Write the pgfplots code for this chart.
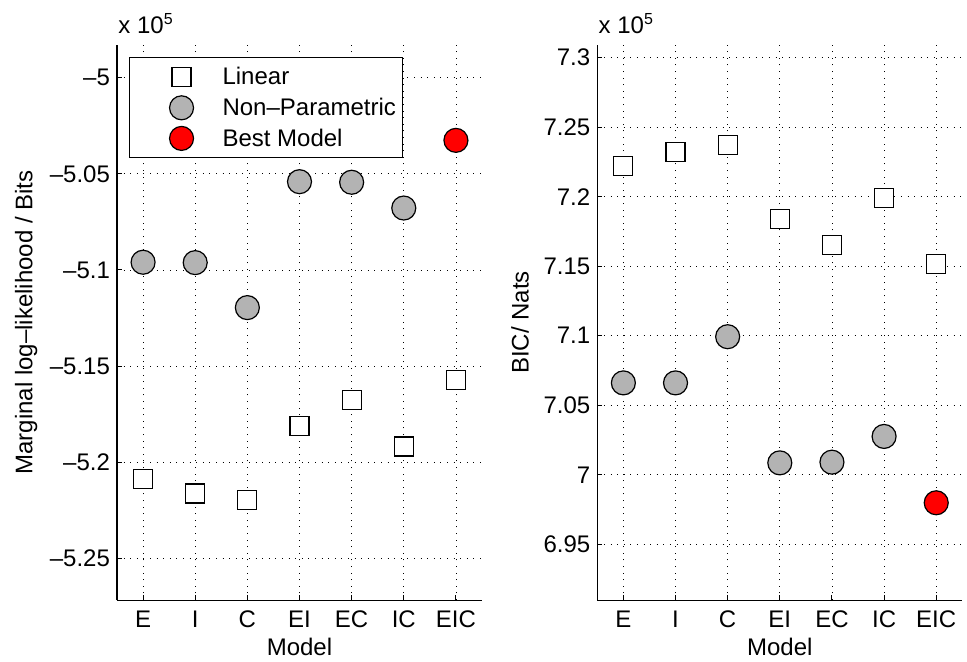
\documentclass[border=0pt]{standalone}
\usepackage{pgfplots}
\pgfplotsset{compat=1.18}
\usepackage{fontspec}
\setmainfont{Liberation Sans}
\definecolor{npgray}{RGB}{179,179,179}
\pgfplotsset{
 mystyle/.style={
  scale only axis, width=182.5pt, height=277.5pt,
  anchor=south west,
  xmin=0.5, xmax=7.5,
  axis x line=bottom, axis y line=left,
  x axis line style={-}, y axis line style={-},
  xtick={1,...,7}, xticklabels={E,I,C,EI,EC,IC,EIC},
  tick align=inside, major tick length=2.5pt,
  grid=major, major grid style={black, line width=0.4pt, dash pattern=on 0.5pt off 2.8pt},
  tick style={black, line width=0.5pt},
  axis line style={line width=0.5pt},
  font=\fontsize{12}{14}\selectfont,
  tick label style={font=\fontsize{12}{14}\selectfont},
  xlabel=Model,
  xlabel style={at={(axis description cs:0.5,0)}, anchor=center, yshift=-23.5pt},
  xticklabel style={yshift=-2pt},
  /pgf/number format/assume math mode=true,
  clip=false,
 },
 linstyle/.style={only marks, mark=square*, mark size=4.75pt, mark options={fill=white, draw=black, line width=0.6pt}},
 npstyle/.style={only marks, mark=*, mark size=6pt, mark options={fill=npgray, draw=black, line width=0.6pt}},
 beststyle/.style={only marks, mark=*, mark size=6pt, mark options={fill=red, draw=black, line width=0.6pt}},
}
\begin{document}
\begin{tikzpicture}
\useasboundingbox (-58.5pt,-30.5pt) rectangle (425pt,300pt);
\begin{axis}[mystyle, at={(0pt,0pt)},
  ymin=-5.2717, ymax=-4.983,
  ytick={-5.25,-5.2,-5.15,-5.1,-5.05,-5},
  yticklabels={–5.25,–5.2,–5.15,–5.1,–5.05,–5},
  ylabel={Marginal log–likelihood / Bits},
  ylabel style={at={(axis description cs:-0.249,0.5)}, anchor=center},
  legend style={at={(0.033,0.978)}, anchor=north west, draw=black, line width=0.5pt,
    inner xsep=1.5pt, inner ysep=2.1pt, row sep=0pt,
    nodes={inner ysep=2.85pt, inner xsep=2pt, text height=8.6pt, text depth=1pt},
    cells={anchor=west}, font=\fontsize{12}{14}\selectfont},
  legend image code/.code={\path[draw=none] (0pt,-1pt) rectangle (43pt,1pt); \path[#1] plot coordinates {(24.5pt,0pt)};},
]
\addplot[linstyle] coordinates {(1,-5.2086) (2,-5.2163) (3,-5.2196) (4,-5.1812) (5,-5.1675) (6,-5.1918) (7,-5.1571)};
\addlegendentry{Linear}
\addplot[npstyle] coordinates {(1,-5.0960) (2,-5.0962) (3,-5.1196) (4,-5.0541) (5,-5.0544) (6,-5.0678)};
\addlegendentry{Non–Parametric}
\addplot[beststyle] coordinates {(7,-5.0326)};
\addlegendentry{Best Model}
\node[anchor=base west, inner sep=0pt] at (rel axis cs:0,1) [yshift=6pt, xshift=0.5pt] {x 10\textsuperscript{5}};
\end{axis}
\begin{axis}[mystyle, at={(240.15pt,0pt)},
  ymin=6.91, ymax=7.309,
  ytick={6.95,7,7.05,7.1,7.15,7.2,7.25,7.3},
  yticklabels={6.95,7,7.05,7.1,7.15,7.2,7.25,7.3},
  ylabel={BIC/ Nats},
  ylabel style={at={(axis description cs:-0.2115,0.5)}, anchor=center},
]
\addplot[linstyle] coordinates {(1,7.2221) (2,7.2321) (3,7.2370) (4,7.1842) (5,7.1653) (6,7.1990) (7,7.1517)};
\addplot[npstyle] coordinates {(1,7.0661) (2,7.0661) (3,7.0993) (4,7.0086) (5,7.0091) (6,7.0276)};
\addplot[beststyle] coordinates {(7,6.9799)};
\node[anchor=base west, inner sep=0pt] at (rel axis cs:0,1) [yshift=6pt, xshift=0.5pt] {x 10\textsuperscript{5}};
\end{axis}
\end{tikzpicture}
\end{document}
